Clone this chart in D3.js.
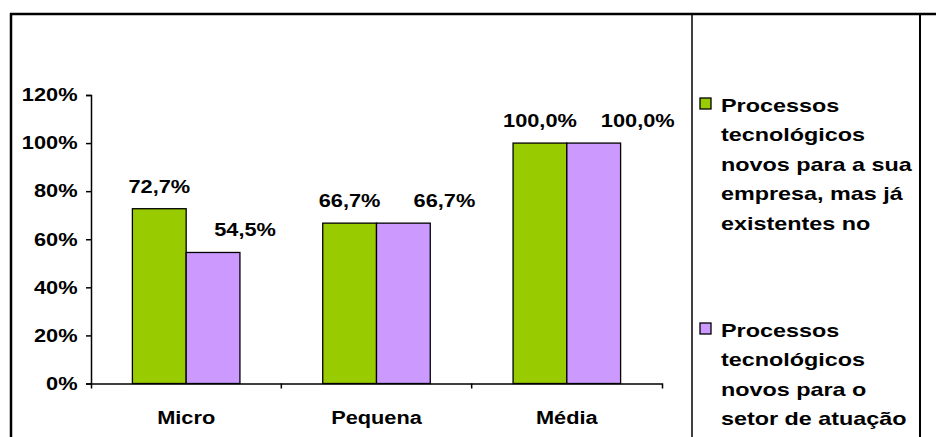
<!DOCTYPE html>
<html>
<head>
<meta charset="utf-8">
<script src="https://cdn.jsdelivr.net/npm/d3@7"></script>
<style>
  html, body { margin: 0; padding: 0; background: #fff; }
  svg { display: block; }
  text { font-family: "Liberation Sans", Arial, sans-serif; font-weight: bold; fill: #000; }
</style>
</head>
<body>
<svg id="chart" width="936" height="437"></svg>
<script>
// data
const categories = ["Micro", "Pequena", "Média"];
const seriesNames = [
  "Processos tecnológicos novos para a sua empresa, mas já existentes no",
  "Processos tecnológicos novos para o setor de atuação"
];
const novosEmpresa = [0.727, 0.667, 1.0];
const novosSetor = [0.545, 0.667, 1.0];
const yTicks = [0, 0.2, 0.4, 0.6, 0.8, 1.0, 1.2];

// legend lines as they wrap in the box
const legendLines = [
  ["Processos", "tecnológicos", "novos para a sua", "empresa, mas já", "existentes no"],
  ["Processos", "tecnológicos", "novos para o", "setor de atuação"]
];
const colors = ["#99cc00", "#cc99ff"];
// hand placed label shifts for the 2nd series (as in the original)
const labelShift = [32, 41, 44];

const sx = 1.21; // text in the original is stretched sideways
const fs = 18;

const svg = d3.select("#chart");

const margin = {left: 91, right: 662, top: 95, bottom: 383.5};

const x0 = d3.scaleBand().domain(categories).range([margin.left, margin.right]).padding(0);
const x1 = d3.scaleBand().domain([0, 1]).range([0, x0.bandwidth()]).paddingInner(0).paddingOuter(0.77);
const y = d3.scaleLinear().domain([0, 1.2]).range([margin.bottom, margin.top]);

// frame lines
svg.append("line").attr("x1", 10).attr("x2", 936).attr("y1", 14).attr("y2", 14)
  .attr("stroke", "#000").attr("stroke-width", 2.5);
svg.append("line").attr("x1", 11).attr("x2", 11).attr("y1", 13).attr("y2", 437)
  .attr("stroke", "#000").attr("stroke-width", 2.5);
svg.append("line").attr("x1", 920).attr("x2", 920).attr("y1", 14).attr("y2", 437)
  .attr("stroke", "#000").attr("stroke-width", 2);
svg.append("line").attr("x1", 692).attr("x2", 692).attr("y1", 14).attr("y2", 437)
  .attr("stroke", "#000").attr("stroke-width", 1.5);

// bars
const rows = categories.map((c, i) => ({cat: c, i: i, vals: [novosEmpresa[i], novosSetor[i]]}));

const groups = svg.append("g").selectAll("g").data(rows).join("g")
  .attr("transform", d => `translate(${x0(d.cat)},0)`);

groups.selectAll("rect").data(d => d.vals.map((v, s) => ({v: v, s: s})))
  .join("rect")
  .attr("x", d => x1(d.s))
  .attr("y", d => y(d.v))
  .attr("width", x1.bandwidth())
  .attr("height", d => y(0) - y(d.v))
  .attr("fill", d => colors[d.s])
  .attr("stroke", "#000")
  .attr("stroke-width", 1.3);

const fmt = v => (v * 100).toFixed(1).replace(".", ",") + "%";

groups.each(function(d) {
  d3.select(this).selectAll("text.val").data(d.vals.map((v, s) => ({v: v, s: s})))
    .join("text")
    .attr("class", "val")
    .attr("text-anchor", "middle")
    .style("font-size", fs + "px")
    .attr("transform", e => {
      const cx = x1(e.s) + x1.bandwidth() / 2 + (e.s === 1 ? labelShift[d.i] : 0);
      return `translate(${cx},${y(e.v) - 16}) scale(${sx},1)`;
    })
    .text(e => fmt(e.v));
});

// y axis
const yAxis = svg.append("g").attr("transform", `translate(${margin.left},0)`)
  .call(d3.axisLeft(y).tickValues(yTicks).tickSize(5).tickSizeOuter(5)
    .tickFormat(d => Math.round(d * 100) + "%"));
yAxis.selectAll("path, line").attr("stroke", "#000").attr("stroke-width", 1.5);
yAxis.selectAll("text")
  .attr("x", -13.5 / sx)
  .attr("transform", `scale(${sx},1)`)
  .style("font-size", fs + "px")
  .attr("font-family", null).attr("fill", "#000");

// x axis: labels in the middle, ticks between the groups
const xAxis = svg.append("g").attr("transform", `translate(0,${margin.bottom})`)
  .call(d3.axisBottom(x0).tickSize(0).tickSizeOuter(5));
xAxis.select(".domain").attr("stroke", "#000").attr("stroke-width", 1.5);
xAxis.selectAll("text")
  .attr("y", 0).attr("dy", null)
  .attr("transform", `translate(0,40) scale(${sx},1)`)
  .style("font-size", fs + "px")
  .attr("font-family", null).attr("fill", "#000");
xAxis.selectAll(".sep").data(categories.slice(1)).join("line")
  .attr("class", "sep")
  .attr("x1", d => x0(d)).attr("x2", d => x0(d))
  .attr("y1", 0).attr("y2", 5)
  .attr("stroke", "#000").attr("stroke-width", 1.5);

// legend
const legendTop = [112, 337];
const lineGap = 29.4;
const lfs = 19, lsx = 1.23;
const legend = svg.append("g");
seriesNames.forEach((name, s) => {
  const g = legend.append("g").attr("class", "entry").attr("data-name", name);
  g.append("rect")
    .attr("x", 700).attr("y", legendTop[s] - 14)
    .attr("width", 11).attr("height", 11)
    .attr("fill", colors[s]).attr("stroke", "#000").attr("stroke-width", 1.3);
  g.selectAll("text").data(legendLines[s]).join("text")
    .style("font-size", lfs + "px")
    .attr("transform", (t, k) => `translate(721,${legendTop[s] + k * lineGap}) scale(${lsx},1)`)
    .text(t => t);
});
</script>
</body>
</html>
